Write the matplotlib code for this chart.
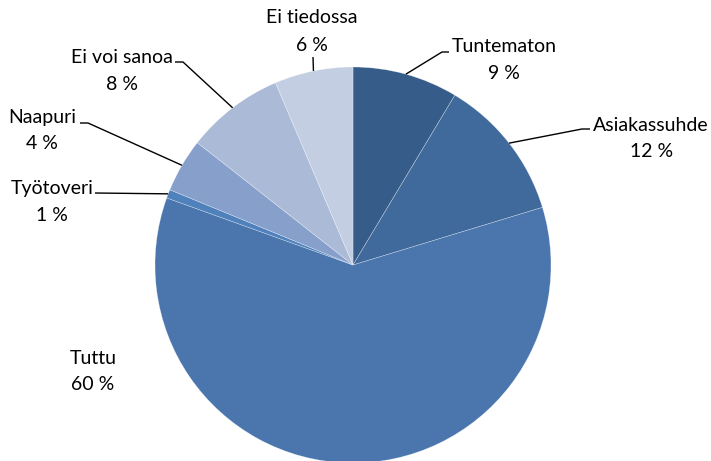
import numpy as np
import matplotlib
matplotlib.use("Agg")
import matplotlib.pyplot as plt

categories = ["Tuntematon", "Asiakassuhde", "Tuttu", "Työtoveri", "Naapuri", "Ei voi sanoa", "Ei tiedossa"]
values = [8.6, 11.7, 60.2, 0.7, 4.4, 8.0, 6.4]
colors = ["#365C89", "#416A9C", "#4A76AD", "#4F81BD", "#87A0CB", "#ABBAD7", "#C4CEE2"]

W, H = 711, 461
fig = plt.figure(figsize=(W / 100, H / 100), dpi=100)
ax = fig.add_axes([0, 0, 1, 1])
plt.rcParams['font.family'] = ['Lato', 'DejaVu Sans']

cx, cy, r = 353, H - 265, 198
wedges, _ = ax.pie(values, colors=colors, startangle=90, counterclock=False,
                   center=(cx, cy), radius=r,
                   wedgeprops=dict(edgecolor=(1, 1, 1, 0.45), linewidth=0.4))
ax.set_xlim(0, W)
ax.set_ylim(0, H)
ax.set_aspect("equal")
ax.set_axis_off()

# label layout (pixel coords from top): name center, pct center, leader path (knee points)
layout = {
    "Tuntematon": dict(name=(504, 46), pct=(504, 73), path=[(442, 52), (449, 52)]),
    "Asiakassuhde": dict(name=(651, 125), pct=(652, 151), path=[(582, 129), (590, 129)]),
    "Tuttu": dict(name=(93, 358), pct=(93, 385), path=None),
    "Työtoveri": dict(name=(52, 188), pct=(52, 215), path=[(95, 193)]),
    "Naapuri": dict(name=(42, 117), pct=(42, 143), path=[(88, 123), (80, 123)]),
    "Ei voi sanoa": dict(name=(122, 57), pct=(122, 84), path=[(183, 62), (175, 62)]),
    "Ei tiedossa": dict(name=(312, 17), pct=(312, 45), path=[(313, 57)]),
}

fs = 14
for w, cat, v in zip(wedges, categories, values):
    L = layout[cat]
    ax.text(L["name"][0], H - L["name"][1], cat, ha="center", va="center", fontsize=fs, color="#000000")
    ax.text(L["pct"][0], H - L["pct"][1], f"{round(v)} %", ha="center", va="center", fontsize=fs, color="#000000")
    if L["path"]:
        th = np.deg2rad((w.theta1 + w.theta2) / 2)
        x0, y0 = cx + r * np.cos(th), cy + r * np.sin(th)
        xs = [x0] + [p[0] for p in L["path"]]
        ys = [y0] + [H - p[1] for p in L["path"]]
        ax.plot(xs, ys, color="#000000", lw=1.0, solid_capstyle="butt")

fig.savefig("out.png", dpi=100)
